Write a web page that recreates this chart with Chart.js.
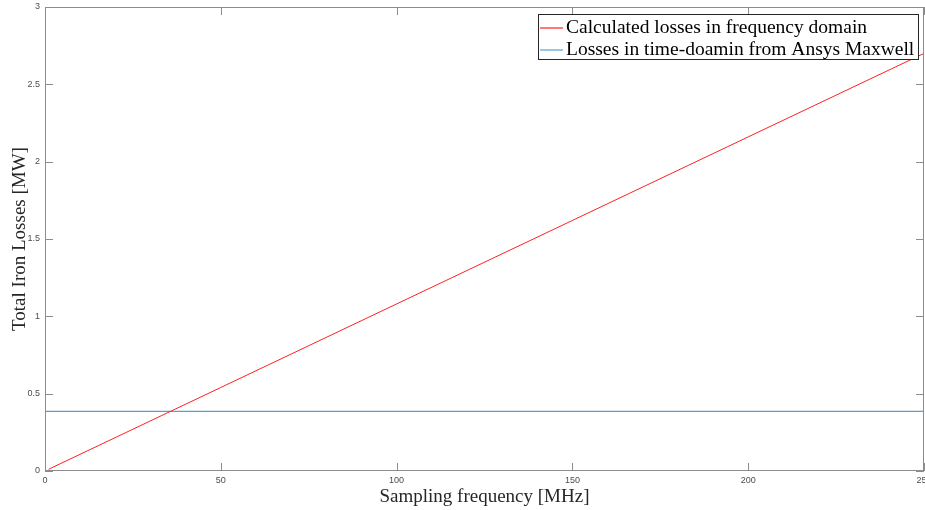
<!DOCTYPE html>
<html>
<head>
<meta charset="utf-8">
<script src="https://cdn.jsdelivr.net/npm/chart.js@4"></script>
<style>
  html, body { margin: 0; padding: 0; background: #fff; }
  #wrap { width: 925px; height: 510px; }
</style>
</head>
<body>
<div id="wrap"><canvas id="lossChart" width="925" height="510"></canvas></div>
<script>
// ===== Iron losses vs sampling frequency =====

// Data
const freqMHz = [1, 50, 100, 150, 200, 250];
const calcLosses = [0.011, 0.54, 1.08, 1.62, 2.16, 2.70];
const maxwellFreq = [0, 250];
const maxwellLosses = [0.386, 0.386];

const xTicks = [0, 50, 100, 150, 200, 250];
const yTicks = [0, 0.5, 1, 1.5, 2, 2.5, 3];

const seriesNames = ['Calculated losses in frequency domain', 'Losses in time-doamin from Ansys Maxwell'];
const seriesColors = ['#ff2020', '#5a9fd4'];

const toPoints = (xs, ys) => xs.map((x, i) => ({ x: x, y: ys[i] }));

// Box around the axes with inward tick marks (MATLAB style)
const framePlugin = {
  id: 'frame',
  afterDatasetsDraw(chart) {
    const { ctx, chartArea: a, scales } = chart;
    ctx.save();
    ctx.strokeStyle = '#8c8c8c';
    ctx.lineWidth = 1;
    ctx.strokeRect(a.left + 0.5, a.top + 0.5, a.right - a.left - 1, a.bottom - a.top - 1);
    ctx.beginPath();
    xTicks.forEach(v => {
      const px = Math.round(scales.x.getPixelForValue(v)) + 0.5;
      ctx.moveTo(px, a.bottom); ctx.lineTo(px, a.bottom - 8);
      ctx.moveTo(px, a.top); ctx.lineTo(px, a.top + 8);
    });
    yTicks.forEach(v => {
      const py = Math.round(scales.y.getPixelForValue(v)) + 0.5;
      ctx.moveTo(a.left, py); ctx.lineTo(a.left + 8, py);
      ctx.moveTo(a.right, py); ctx.lineTo(a.right - 8, py);
    });
    ctx.stroke();
    ctx.restore();
  }
};

// Legend box in the upper right corner
const legendPlugin = {
  id: 'boxLegend',
  afterDraw(chart) {
    const { ctx } = chart;
    const x0 = 538, y0 = 14, w = 380, h = 45;
    ctx.save();
    ctx.fillStyle = '#fff';
    ctx.fillRect(x0, y0, w, h);
    ctx.strokeStyle = '#262626';
    ctx.lineWidth = 1;
    ctx.strokeRect(x0 + 0.5, y0 + 0.5, w, h);
    ctx.font = '19.5px "Liberation Serif"';
    ctx.textBaseline = 'middle';
    seriesNames.forEach((name, i) => {
      const cy = y0 + 13 + i * 22;
      ctx.strokeStyle = seriesColors[i];
      ctx.lineWidth = 1.2;
      ctx.beginPath();
      ctx.moveTo(x0 + 2, cy + 1);
      ctx.lineTo(x0 + 25, cy + 1);
      ctx.stroke();
      ctx.fillStyle = '#000';
      ctx.fillText(name, x0 + 28, cy + 1);
    });
    ctx.restore();
  }
};

const ctx = document.getElementById('lossChart').getContext('2d');

new Chart(ctx, {
  type: 'line',
  data: {
    datasets: [
      {
        label: seriesNames[0],
        data: toPoints(freqMHz, calcLosses),
        borderColor: seriesColors[0],
        borderWidth: 1,
        pointRadius: 0,
        tension: 0
      },
      {
        label: seriesNames[1],
        data: toPoints(maxwellFreq, maxwellLosses),
        borderColor: seriesColors[1],
        borderWidth: 1.2,
        pointRadius: 0,
        tension: 0
      }
    ]
  },
  options: {
    responsive: false,
    animation: false,
    layout: { padding: { top: 7, right: 1, left: 0, bottom: 0 } },
    plugins: {
      legend: { display: false },
      tooltip: { enabled: false }
    },
    scales: {
      x: {
        type: 'linear',
        min: 0,
        max: 250,
        afterBuildTicks: s => { s.ticks = xTicks.map(v => ({ value: v })); },
        ticks: {
          color: '#4d4d4d',
          font: { family: 'Liberation Sans', size: 9 },
          padding: 4,
          maxRotation: 0,
          callback: v => String(v)
        },
        grid: { display: false, drawTicks: false },
        border: { display: false },
        title: {
          display: true,
          text: 'Sampling frequency [MHz]',
          color: '#262626',
          font: { family: 'Liberation Serif', size: 19 },
          padding: { top: 0, bottom: 2 }
        },
        afterFit: s => { s.height = 39; s.paddingLeft = 0; s.paddingRight = 0; }
      },
      y: {
        type: 'linear',
        min: 0,
        max: 3,
        afterBuildTicks: s => { s.ticks = yTicks.map(v => ({ value: v })); },
        ticks: {
          color: '#4d4d4d',
          font: { family: 'Liberation Sans', size: 9 },
          padding: 5,
          callback: v => String(v)
        },
        grid: { display: false, drawTicks: false },
        border: { display: false },
        title: {
          display: true,
          text: 'Total Iron Losses [MW]',
          color: '#262626',
          font: { family: 'Liberation Serif', size: 19 },
          padding: { top: 9, bottom: 0 }
        },
        afterFit: s => { s.width = 45; s.paddingTop = 0; s.paddingBottom = 0; }
      }
    }
  },
  plugins: [framePlugin, legendPlugin]
});
</script>
</body>
</html>
